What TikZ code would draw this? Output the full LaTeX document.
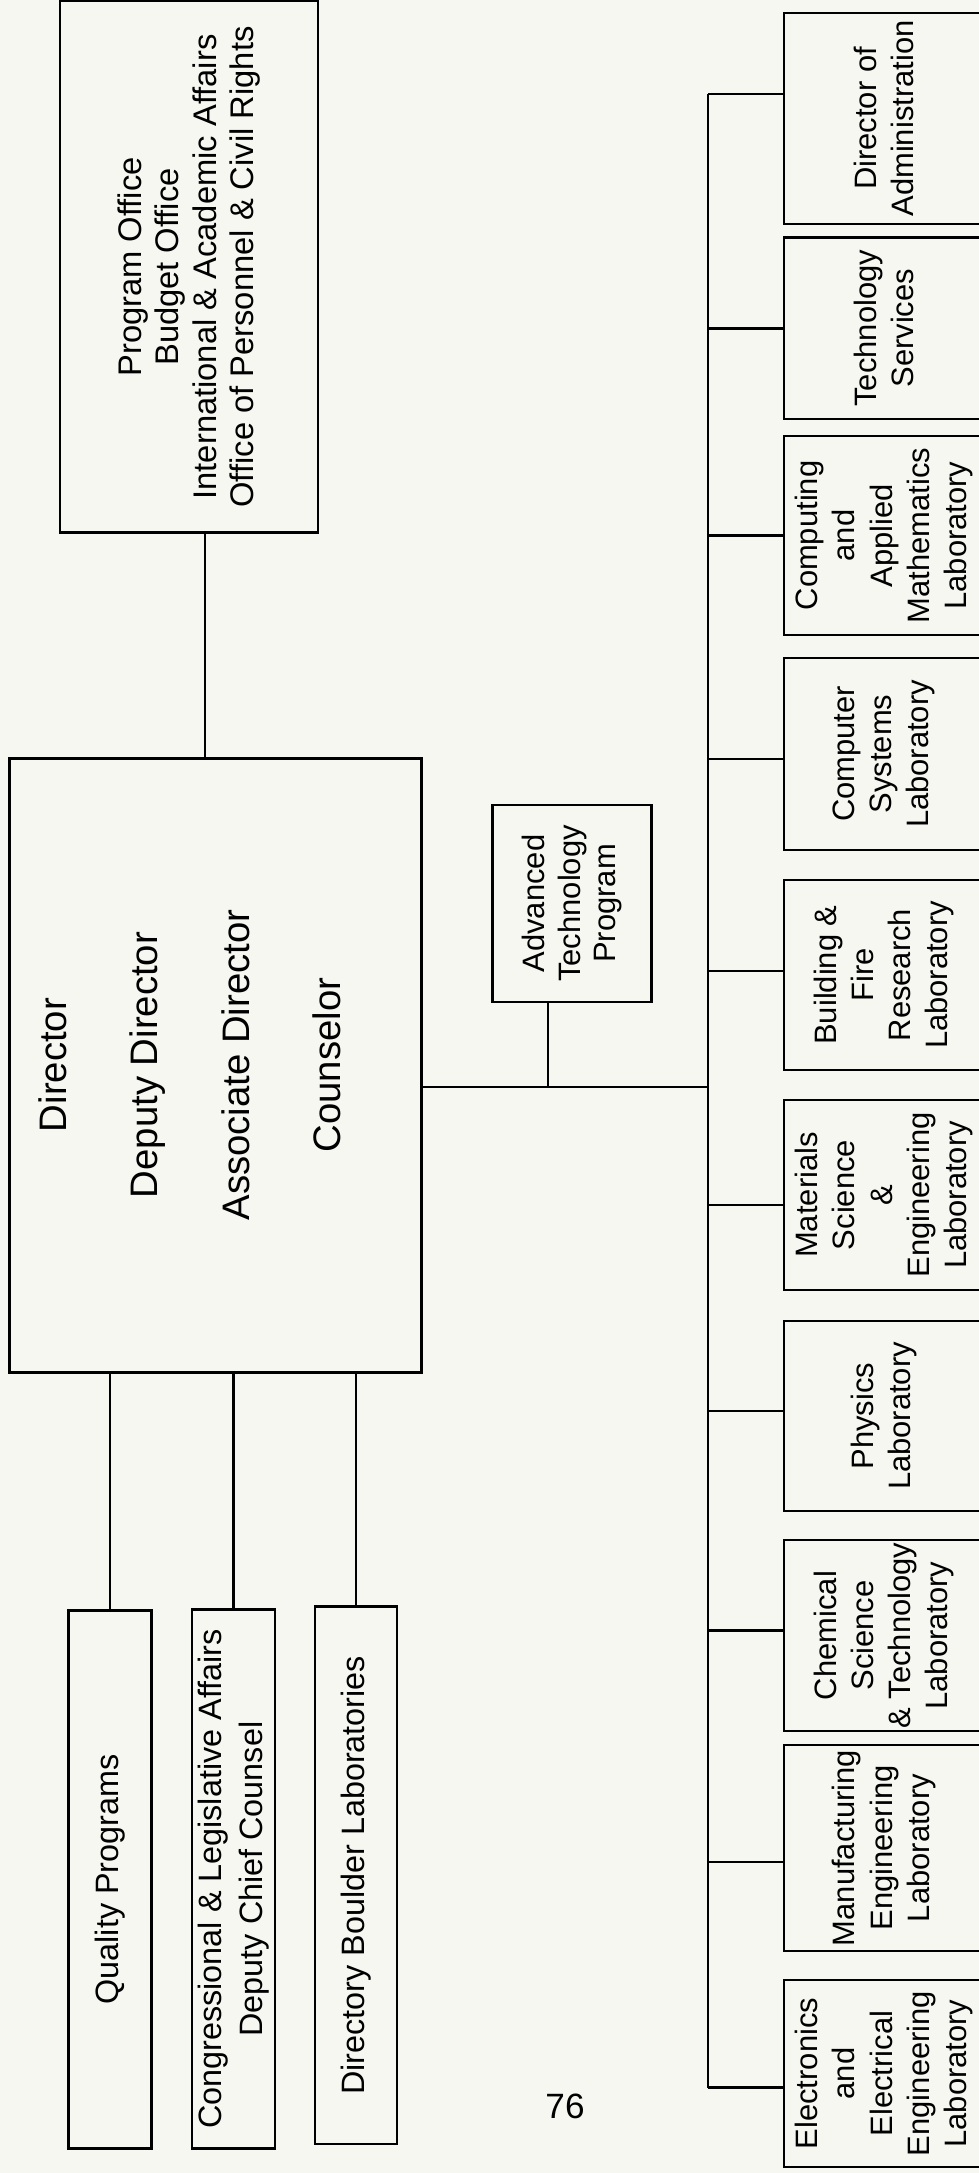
\documentclass[tikz,border=0pt]{standalone}
\usepackage{fontspec}
\setmainfont{Liberation Sans}
\definecolor{paper}{RGB}{247,247,242}
\tikzset{
  box/.style={draw,line width=0.8pt,rotate=90,align=center,inner sep=0pt},
  lab/.style={box,minimum height=2.0cm,font=\fontsize{8.8}{10.6}\selectfont},
  side/.style={box,minimum height=0.83cm,font=\fontsize{9.2}{11.5}\selectfont},
  wire/.style={line width=0.8pt},
}
\begin{document}
\begin{tikzpicture}[x=0.01cm,y=-0.01cm]
\fill[paper] (0,0) rectangle (979,2173);
\useasboundingbox (0,0) rectangle (979,2173);
% staff offices above the director
\node[box,minimum width=5.315cm,minimum height=2.58cm,font=\fontsize{9.3}{10.6}\selectfont] (top) at (189,267)
  {Program Office\\Budget Office\\International \& Academic Affairs\\Office of Personnel \& Civil Rights};
\node[draw,line width=0.8pt,minimum width=4.12cm,minimum height=6.13cm] (dir) at (215.5,1065.5) {};
\node[rotate=90,align=center,font=\fontsize{10.9}{26}\selectfont] (dirtxt) at (190,1065)
  {Director\\Deputy Director\\Associate Director\\Counselor};
\node[box,minimum width=1.97cm,minimum height=1.584cm,font=\fontsize{8.8}{10.2}\selectfont] (atp) at (572,903.5)
  {Advanced\\Technology\\Program};
% offices below the director
\node[side,minimum width=5.37cm] (qual) at (110,1879.5) {Quality Programs};
\node[side,minimum width=5.38cm] (cong) at (233.5,1879) {Congressional \& Legislative Affairs\\Deputy Chief Counsel};
\node[side,minimum width=5.37cm,minimum height=0.82cm] (dbl) at (356,1875.3) {Directory Boulder Laboratories};
% laboratories
\foreach \n/\ya/\yb/\txt in {
  dadmin/13/224/{Director of\\Administration},
  tserv/237.5/419/{Technology\\Services},
  caml/436/635/{Computing\\and\\Applied\\Mathematics\\Laboratory},
  csl/658/850/{Computer\\Systems\\Laboratory},
  bfrl/880/1070/{Building \&\\Fire\\Research\\Laboratory},
  msel/1100/1290/{Materials\\Science\\\&\\Engineering\\Laboratory},
  phys/1321/1511/{Physics\\Laboratory},
  cstl/1540/1731/{Chemical\\Science\\\& Technology\\Laboratory},
  mel/1745/1951/{Manufacturing\\Engineering\\Laboratory},
  eeel/1980/2167/{Electronics\\and\\Electrical\\Engineering\\Laboratory}}
  \node[lab,minimum width={(\yb-\ya)*0.01cm}] (\n) at (884,{(\ya+\yb)/2}) {\txt};
\coordinate (bus) at (708,0);
\coordinate (hub) at (548,1087);
\coordinate (topstem) at (205,0);
% connectors
\draw[wire] (top.west -| topstem) -- (dir.north -| topstem);
\draw[wire] (dir.east |- hub) -- (hub -| bus);
\draw[wire] (atp.west -| hub) -- (hub);
\foreach \n in {qual,cong,dbl} \draw[wire] (\n.east) -- (\n.east |- dir.south);
\foreach \n/\dy in {dadmin/0.245,tserv/0,caml/0,csl/-0.05,bfrl/0.04,msel/-0.1,phys/0.05,cstl/0.05,mel/-0.14,eeel/-0.14}
  \draw[wire] ([yshift=\dy cm]\n.north) -- ([yshift=\dy cm]\n.north -| bus);
\draw[wire] ([yshift=0.245cm]dadmin.north -| bus) -- ([yshift=-0.14cm]eeel.north -| bus);
\node[font=\fontsize{10}{12}\selectfont] (pagenum) at (565,2106) {76};
\end{tikzpicture}
\end{document}
